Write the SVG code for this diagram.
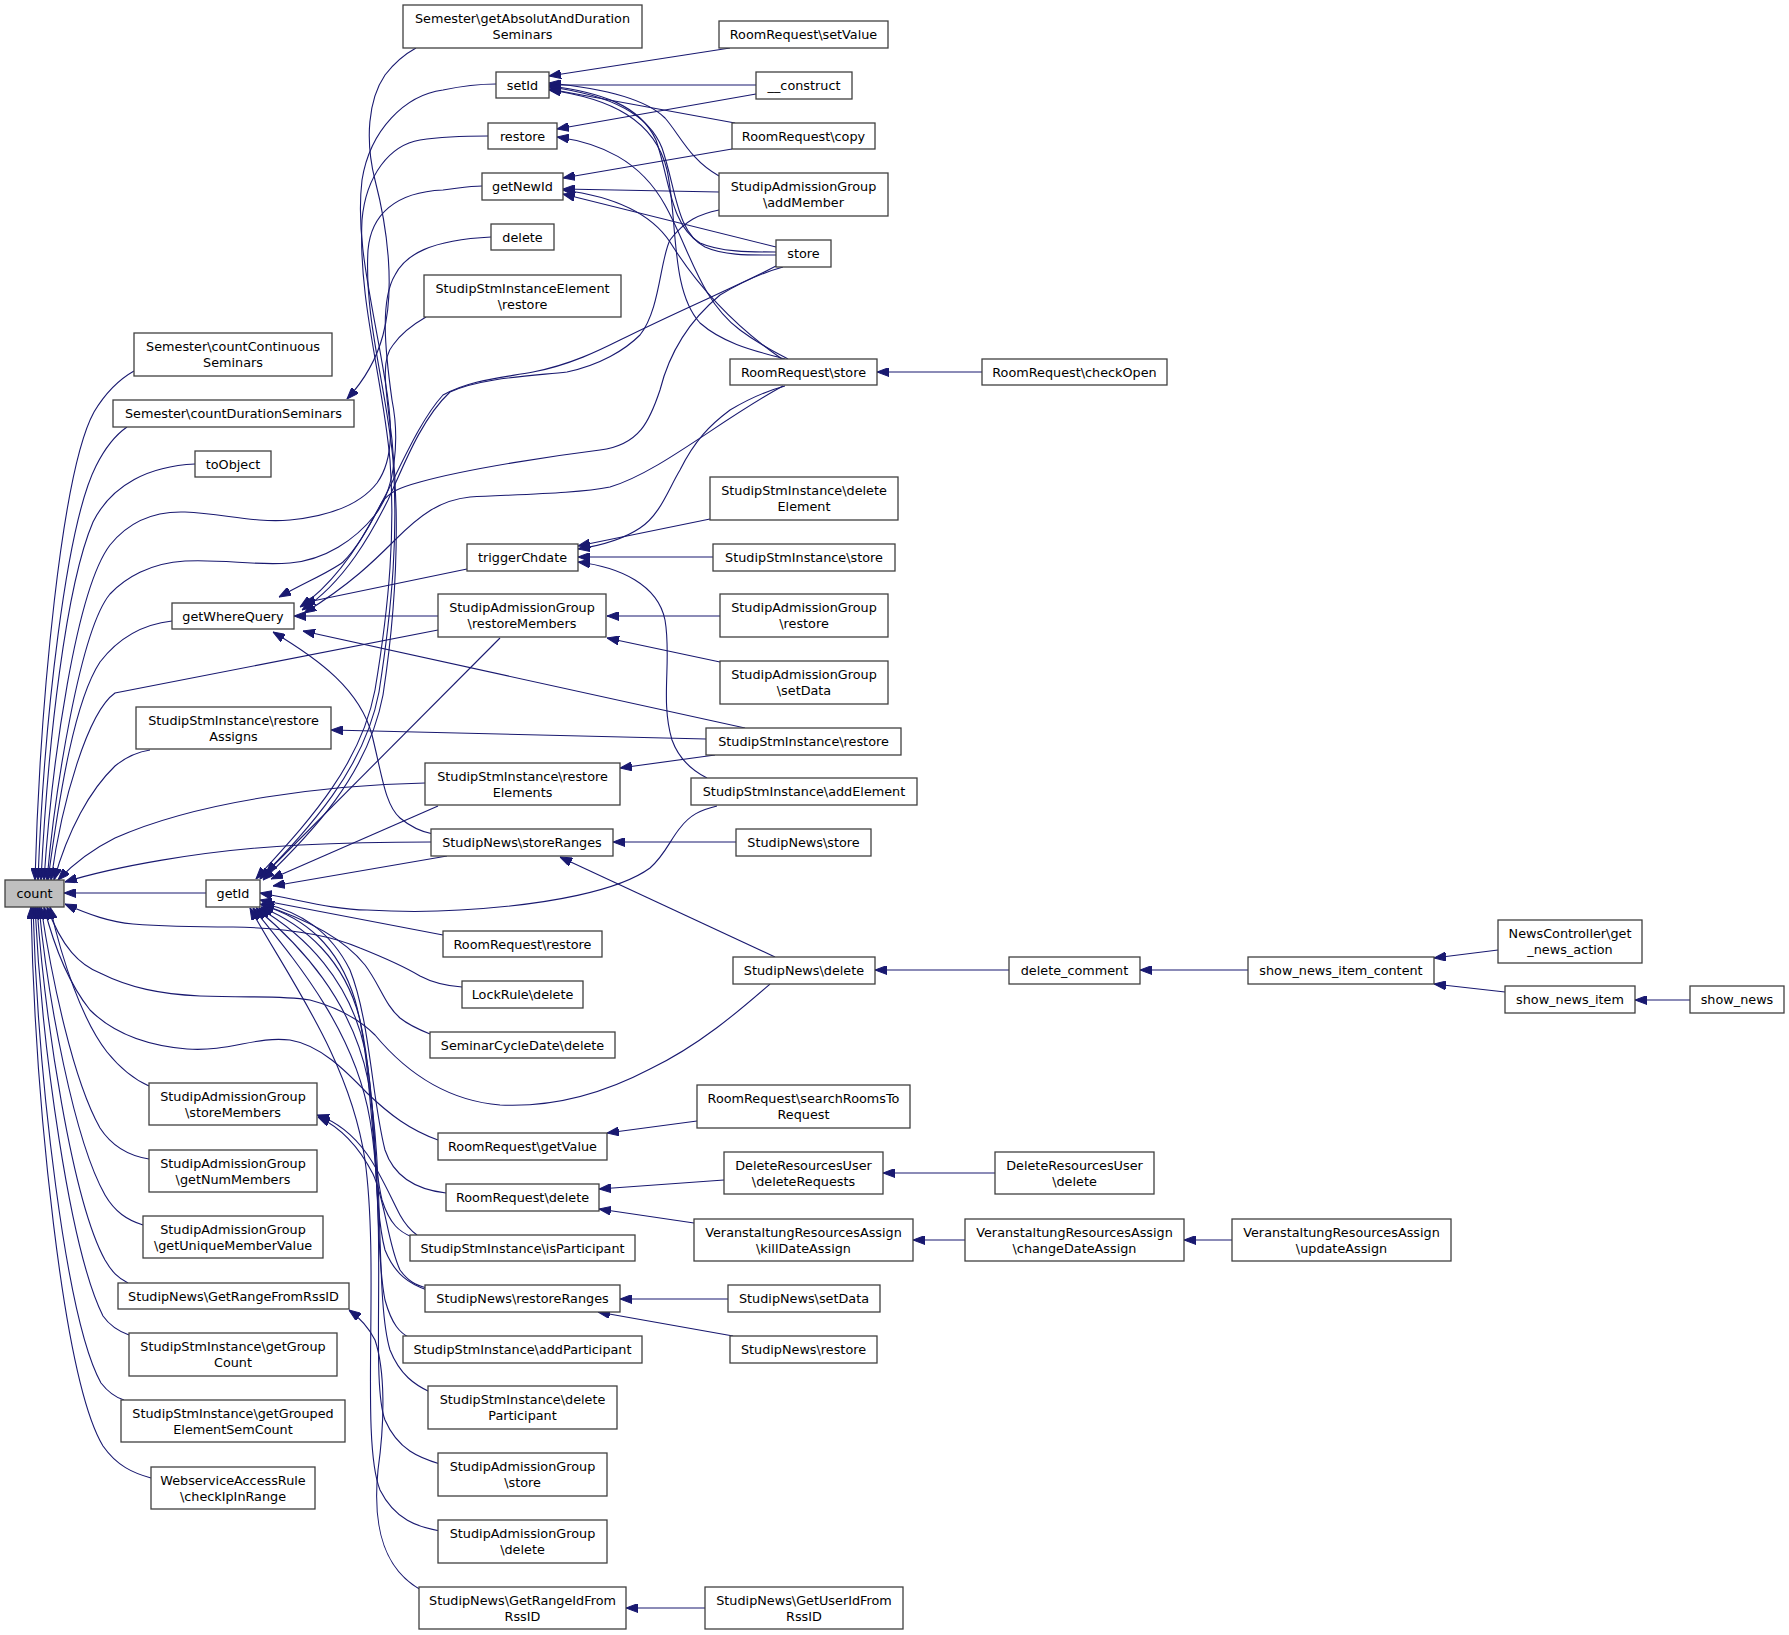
<svg xmlns="http://www.w3.org/2000/svg" width="1789" height="1635" viewBox="0 0 1789 1635">
<defs>
<marker id="ah" viewBox="0 0 12 9" refX="0" refY="4.5" markerWidth="12" markerHeight="9" markerUnits="userSpaceOnUse" orient="auto"><path d="M0,4.5 L12,0 L12,9 z" fill="#191970" stroke="#191970" stroke-width="1"/></marker>
</defs>
<style>
.n rect{fill:#ffffff;stroke:#404040;stroke-width:1.3}
.n text{font-family:"DejaVu Sans","Liberation Sans",sans-serif;font-size:12.8px;fill:#000;text-anchor:middle}
.g rect{fill:#bfbfbf}
.e path{fill:none;stroke:#191970;stroke-width:1.1;marker-start:url(#ah)}
</style>
<rect width="1789" height="1635" fill="#ffffff"/>
<g id="connectors" class="e">
<path d="M35,880 C40,700 62,470 94,412 C106,392 118,380 134,371"/>
<path d="M38,880 C44,720 66,525 96,466 C105,448 114,436 127,427"/>
<path d="M41,880 C48,740 66,585 93,522 C112,484 150,466 195,464"/>
<path d="M44,880 C52,760 76,590 110,545 C130,520 155,511 185,512 C225,514 255,523 290,520 C330,516 360,505 377,483 C395,458 392,420 385,380 C372,300 355,240 362,180 C370,130 405,95 443,90 C462,86 480,84 496,84"/>
<path d="M47,880 C55,790 80,630 110,594 C125,578 150,563 185,561 C225,559 255,566 290,563 C325,560 355,540 375,515 C395,490 400,440 392,400 C385,350 380,300 395,275 C405,255 430,240 491,237"/>
<path d="M48,880 C60,790 75,700 100,662 C120,636 145,624 172,621"/>
<path d="M51,880 C62,800 88,712 115,693 L438,630"/>
<path d="M54,880 C68,830 90,790 115,766 C126,757 137,752 150,750"/>
<path d="M58,880 C75,862 95,848 115,838 C200,800 330,785 425,783"/>
<path d="M65,882 C110,868 200,850 300,845 C360,842 400,842 431,842"/>
<path d="M64,893 L206,893"/>
<path d="M65,904 C90,915 110,922 133,924 C170,927 200,927 233,927 C290,928 330,935 360,948 C380,956 400,964 420,976 C435,984 448,986 462,987"/>
<path d="M47,907 C62,948 80,965 100,973 C130,988 160,994 200,996 C250,998 280,995 310,1000 C340,1008 360,1020 375,1035 C400,1065 440,1100 500,1105 C560,1108 610,1090 650,1069 C700,1045 740,1010 770,984"/>
<path d="M44,907 C55,950 70,985 90,1010 C110,1030 140,1045 187,1049 C230,1052 255,1036 290,1040 C320,1045 345,1070 367,1093 C390,1115 410,1130 438,1140"/>
<path d="M50,907 C62,960 82,1020 107,1052 C120,1068 133,1079 149,1086"/>
<path d="M41,907 C52,980 73,1080 100,1128 C113,1148 130,1156 149,1159"/>
<path d="M39,907 C48,1000 74,1140 105,1195 C115,1212 127,1220 143,1225"/>
<path d="M37,907 C45,1020 72,1200 105,1260 C112,1272 118,1278 128,1283"/>
<path d="M35,907 C42,1050 70,1250 103,1316 C110,1326 118,1331 129,1335"/>
<path d="M33,907 C38,1080 66,1320 101,1383 C108,1392 114,1397 124,1400"/>
<path d="M31,907 C35,1100 63,1380 103,1446 C117,1466 133,1473 151,1478"/>
<path d="M256,879 C300,830 360,770 375,690 C390,600 395,530 390,460 C383,380 358,300 362,220 C366,175 390,145 420,140 C440,137 465,136 488,136"/>
<path d="M260,879 C305,832 364,772 379,692 C393,602 398,530 393,460 C387,390 364,320 368,250 C371,215 395,192 443,190 C460,188 470,186 482,186"/>
<path d="M263,880 C310,835 368,775 383,695 C396,610 400,520 392,440 C386,390 380,360 393,345 C400,335 412,325 426,317"/>
<path d="M266,873 L500,638"/>
<path d="M271,879 L438,806"/>
<path d="M273,886 L447,856"/>
<path d="M260,893 C300,900 335,910 367,910 C400,912 430,912 460,910 C550,905 620,890 650,868 C665,855 670,840 680,828 C690,815 700,810 717,806"/>
<path d="M260,900 L443,935"/>
<path d="M260,904 C310,920 345,940 365,965 C380,985 385,1005 400,1018 C410,1026 420,1030 430,1034"/>
<path d="M262,903 C300,912 330,930 350,970 C370,1020 372,1100 385,1150 C395,1180 420,1190 446,1193"/>
<path d="M262,905 C305,918 338,945 355,1000 C372,1060 370,1150 382,1200 C390,1225 400,1232 412,1237"/>
<path d="M261,907 C305,925 345,960 360,1020 C378,1100 372,1200 385,1250 C395,1275 410,1284 427,1290"/>
<path d="M259,908 C305,935 350,980 365,1050 C380,1130 375,1250 385,1300 C392,1325 400,1333 410,1338"/>
<path d="M256,908 C300,945 352,1000 368,1080 C385,1170 375,1300 390,1350 C400,1375 415,1385 430,1392"/>
<path d="M253,908 C295,960 355,1030 370,1120 C388,1230 370,1380 385,1420 C398,1450 420,1458 440,1464"/>
<path d="M250,908 C290,980 350,1060 365,1160 C380,1270 360,1440 380,1490 C395,1520 418,1527 440,1531"/>
<path d="M549,76 L730,48"/>
<path d="M549,85 L756,85"/>
<path d="M549,89 L735,123"/>
<path d="M549,83 C600,88 645,98 665,118 C680,135 690,160 719,176"/>
<path d="M549,86 C600,92 640,105 656,140 C670,180 670,225 700,243 C720,252 750,252 776,252"/>
<path d="M549,87 C605,94 648,112 662,148 C676,188 676,232 705,247 C725,256 752,255 776,255"/>
<path d="M549,90 C610,98 655,120 667,170 C678,220 670,290 700,323 C725,345 760,352 785,359"/>
<path d="M557,129 L756,94"/>
<path d="M557,137 C600,143 640,160 665,205 C690,250 700,300 740,330 C760,345 775,352 788,359"/>
<path d="M563,178 L732,149"/>
<path d="M563,189 L719,192"/>
<path d="M563,194 L776,247"/>
<path d="M563,190 C610,196 650,212 670,242 C700,290 740,330 782,359"/>
<path d="M300,607 C340,580 368,530 383,500 C400,468 420,420 443,395 C470,380 500,378 533,372 C570,365 600,350 620,340 C680,310 740,285 776,266"/>
<path d="M302,610 C345,582 372,532 388,500 C402,470 420,420 450,392 C480,378 530,376 567,372 C600,365 625,350 640,335 C660,310 660,260 670,240 C685,220 700,214 719,210"/>
<path d="M304,613 C350,585 375,560 395,540 C420,515 440,500 470,497 C530,494 580,493 610,487 C660,472 720,420 783,386"/>
<path d="M279,597 C310,580 330,572 343,562 C360,545 372,520 382,502 C390,492 398,488 420,482 C470,468 560,455 600,450 C640,445 650,420 660,390 C670,350 690,320 720,295 C745,280 765,272 783,267"/>
<path d="M578,546 L710,519"/>
<path d="M578,557 L713,557"/>
<path d="M578,562 C620,567 658,585 665,620 C672,660 660,700 672,740 C680,762 695,772 707,778"/>
<path d="M578,549 C605,545 625,538 640,528 C660,515 668,490 680,470 C695,440 710,425 730,410 C750,398 770,390 785,386"/>
<path d="M303,603 L467,569"/>
<path d="M294,616 L438,616"/>
<path d="M303,631 L745,728"/>
<path d="M273,632 C320,660 360,690 372,735 C382,775 385,805 400,818 C412,828 422,832 433,834"/>
<path d="M607,616 L720,616"/>
<path d="M607,638 L720,662"/>
<path d="M331,730 L706,739"/>
<path d="M620,768 L715,755"/>
<path d="M613,842 L736,842"/>
<path d="M560,857 L775,957"/>
<path d="M875,970 L1009,970"/>
<path d="M1140,970 L1248,970"/>
<path d="M1434,958 L1498,950"/>
<path d="M1434,984 L1505,992"/>
<path d="M1635,1000 L1690,1000"/>
<path d="M877,372 L982,372"/>
<path d="M607,1133 L697,1121"/>
<path d="M599,1189 L724,1180"/>
<path d="M599,1209 L694,1223"/>
<path d="M883,1173 L995,1173"/>
<path d="M913,1240 L965,1240"/>
<path d="M1184,1240 L1232,1240"/>
<path d="M620,1299 L728,1299"/>
<path d="M598,1312 L733,1336"/>
<path d="M626,1608 L705,1608"/>
<path d="M349,1310 C360,1318 368,1326 375,1340 C385,1370 385,1420 378,1470 C372,1530 385,1570 421,1590"/>
<path d="M317,1115 C335,1121 352,1133 367,1154 C380,1172 392,1200 400,1215 C405,1224 410,1230 417,1235"/>
<path d="M318,1117 C340,1127 358,1145 373,1174 C385,1200 388,1245 400,1270 C408,1281 415,1285 427,1288"/>
<path d="M347,399 C360,385 375,365 383,335 C395,290 388,230 375,180 C365,140 368,100 385,75 C395,62 405,54 416,48"/>
</g>
<g id="count" class="n g"><rect x="5" y="880" width="59" height="27"/><text x="34.5" y="898">count</text></g>
<g id="getId" class="n"><rect x="206" y="880" width="54" height="27"/><text x="233" y="898">getId</text></g>
<g id="getWhereQuery" class="n"><rect x="172" y="603" width="122" height="26"/><text x="233" y="620.5">getWhereQuery</text></g>
<g id="countContinuous" class="n"><rect x="134" y="333" width="198" height="43"/><text x="233" y="351">Semester\countContinuous</text><text x="233" y="367">Seminars</text></g>
<g id="countDuration" class="n"><rect x="113" y="400" width="241" height="27"/><text x="233.5" y="418">Semester\countDurationSeminars</text></g>
<g id="toObject" class="n"><rect x="195" y="451" width="76" height="26"/><text x="233" y="468.5">toObject</text></g>
<g id="restoreAssigns" class="n"><rect x="136" y="707" width="195" height="42"/><text x="233.5" y="725">StudipStmInstance\restore</text><text x="233.5" y="741">Assigns</text></g>
<g id="storeMembers" class="n"><rect x="149" y="1083" width="168" height="42"/><text x="233" y="1101">StudipAdmissionGroup</text><text x="233" y="1117">\storeMembers</text></g>
<g id="getNumMembers" class="n"><rect x="149" y="1150" width="168" height="42"/><text x="233" y="1168">StudipAdmissionGroup</text><text x="233" y="1184">\getNumMembers</text></g>
<g id="getUniqueMemberValue" class="n"><rect x="143" y="1216" width="180" height="42"/><text x="233" y="1234">StudipAdmissionGroup</text><text x="233" y="1250">\getUniqueMemberValue</text></g>
<g id="GetRangeFromRssID" class="n"><rect x="118" y="1283" width="231" height="26"/><text x="233.5" y="1300.5">StudipNews\GetRangeFromRssID</text></g>
<g id="getGroupCount" class="n"><rect x="129" y="1333" width="208" height="43"/><text x="233" y="1351">StudipStmInstance\getGroup</text><text x="233" y="1367">Count</text></g>
<g id="getGroupedElementSemCount" class="n"><rect x="121" y="1400" width="224" height="42"/><text x="233" y="1418">StudipStmInstance\getGrouped</text><text x="233" y="1434">ElementSemCount</text></g>
<g id="checkIpInRange" class="n"><rect x="151" y="1467" width="164" height="42"/><text x="233" y="1485">WebserviceAccessRule</text><text x="233" y="1501">\checkIpInRange</text></g>
<g id="getAbsolutAndDurationSeminars" class="n"><rect x="403" y="5" width="239" height="43"/><text x="522.5" y="23">Semester\getAbsolutAndDuration</text><text x="522.5" y="39">Seminars</text></g>
<g id="setId" class="n"><rect x="496" y="72" width="53" height="26"/><text x="522.5" y="89.5">setId</text></g>
<g id="restore" class="n"><rect x="488" y="123" width="69" height="26"/><text x="522.5" y="140.5">restore</text></g>
<g id="getNewId" class="n"><rect x="482" y="173" width="81" height="27"/><text x="522.5" y="191">getNewId</text></g>
<g id="delete" class="n"><rect x="491" y="224" width="63" height="26"/><text x="522.5" y="241.5">delete</text></g>
<g id="StmElementRestore" class="n"><rect x="424" y="275" width="197" height="42"/><text x="522.5" y="293">StudipStmInstanceElement</text><text x="522.5" y="309">\restore</text></g>
<g id="triggerChdate" class="n"><rect x="467" y="544" width="111" height="27"/><text x="522.5" y="562">triggerChdate</text></g>
<g id="restoreMembers" class="n"><rect x="438" y="594" width="168" height="43"/><text x="522" y="612">StudipAdmissionGroup</text><text x="522" y="628">\restoreMembers</text></g>
<g id="restoreElements" class="n"><rect x="425" y="763" width="195" height="42"/><text x="522.5" y="781">StudipStmInstance\restore</text><text x="522.5" y="797">Elements</text></g>
<g id="storeRanges" class="n"><rect x="431" y="829" width="182" height="27"/><text x="522" y="847">StudipNews\storeRanges</text></g>
<g id="RoomRequestRestore" class="n"><rect x="443" y="931" width="159" height="26"/><text x="522.5" y="948.5">RoomRequest\restore</text></g>
<g id="LockRuleDelete" class="n"><rect x="462" y="981" width="121" height="27"/><text x="522.5" y="999">LockRule\delete</text></g>
<g id="SeminarCycleDateDelete" class="n"><rect x="430" y="1032" width="185" height="26"/><text x="522.5" y="1049.5">SeminarCycleDate\delete</text></g>
<g id="RoomRequestGetValue" class="n"><rect x="438" y="1133" width="169" height="27"/><text x="522.5" y="1151">RoomRequest\getValue</text></g>
<g id="RoomRequestDelete" class="n"><rect x="446" y="1184" width="153" height="27"/><text x="522.5" y="1202">RoomRequest\delete</text></g>
<g id="isParticipant" class="n"><rect x="410" y="1235" width="225" height="26"/><text x="522.5" y="1252.5">StudipStmInstance\isParticipant</text></g>
<g id="restoreRanges" class="n"><rect x="425" y="1285" width="195" height="27"/><text x="522.5" y="1303">StudipNews\restoreRanges</text></g>
<g id="addParticipant" class="n"><rect x="403" y="1336" width="239" height="27"/><text x="522.5" y="1354">StudipStmInstance\addParticipant</text></g>
<g id="deleteParticipant" class="n"><rect x="428" y="1386" width="189" height="43"/><text x="522.5" y="1404">StudipStmInstance\delete</text><text x="522.5" y="1420">Participant</text></g>
<g id="AdmissionGroupStore" class="n"><rect x="438" y="1453" width="169" height="43"/><text x="522.5" y="1471">StudipAdmissionGroup</text><text x="522.5" y="1487">\store</text></g>
<g id="AdmissionGroupDelete" class="n"><rect x="438" y="1520" width="169" height="43"/><text x="522.5" y="1538">StudipAdmissionGroup</text><text x="522.5" y="1554">\delete</text></g>
<g id="GetRangeIdFromRssID" class="n"><rect x="419" y="1587" width="207" height="42"/><text x="522.5" y="1605">StudipNews\GetRangeIdFrom</text><text x="522.5" y="1621">RssID</text></g>
<g id="setValue" class="n"><rect x="719" y="21" width="169" height="27"/><text x="803.5" y="39">RoomRequest\setValue</text></g>
<g id="construct" class="n"><rect x="756" y="72" width="96" height="27"/><text x="804" y="90">__construct</text></g>
<g id="copy" class="n"><rect x="732" y="123" width="143" height="26"/><text x="803.5" y="140.5">RoomRequest\copy</text></g>
<g id="addMember" class="n"><rect x="719" y="173" width="169" height="43"/><text x="803.5" y="191">StudipAdmissionGroup</text><text x="803.5" y="207">\addMember</text></g>
<g id="store" class="n"><rect x="776" y="240" width="55" height="27"/><text x="803.5" y="258">store</text></g>
<g id="RoomRequestStore" class="n"><rect x="730" y="359" width="147" height="26"/><text x="803.5" y="376.5">RoomRequest\store</text></g>
<g id="deleteElement" class="n"><rect x="710" y="477" width="188" height="43"/><text x="804" y="495">StudipStmInstance\delete</text><text x="804" y="511">Element</text></g>
<g id="StmInstanceStore" class="n"><rect x="713" y="544" width="182" height="27"/><text x="804" y="562">StudipStmInstance\store</text></g>
<g id="AdmissionGroupRestore" class="n"><rect x="720" y="594" width="168" height="43"/><text x="804" y="612">StudipAdmissionGroup</text><text x="804" y="628">\restore</text></g>
<g id="AdmissionGroupSetData" class="n"><rect x="720" y="661" width="168" height="43"/><text x="804" y="679">StudipAdmissionGroup</text><text x="804" y="695">\setData</text></g>
<g id="StmInstanceRestore" class="n"><rect x="706" y="728" width="195" height="27"/><text x="803.5" y="746">StudipStmInstance\restore</text></g>
<g id="addElement" class="n"><rect x="691" y="778" width="226" height="27"/><text x="804" y="796">StudipStmInstance\addElement</text></g>
<g id="NewsStore" class="n"><rect x="736" y="829" width="135" height="27"/><text x="803.5" y="847">StudipNews\store</text></g>
<g id="NewsDelete" class="n"><rect x="733" y="957" width="142" height="27"/><text x="804" y="975">StudipNews\delete</text></g>
<g id="searchRoomsToRequest" class="n"><rect x="697" y="1085" width="213" height="43"/><text x="803.5" y="1103">RoomRequest\searchRoomsTo</text><text x="803.5" y="1119">Request</text></g>
<g id="deleteRequests" class="n"><rect x="724" y="1152" width="159" height="42"/><text x="803.5" y="1170">DeleteResourcesUser</text><text x="803.5" y="1186">\deleteRequests</text></g>
<g id="killDateAssign" class="n"><rect x="694" y="1219" width="219" height="42"/><text x="803.5" y="1237">VeranstaltungResourcesAssign</text><text x="803.5" y="1253">\killDateAssign</text></g>
<g id="NewsSetData" class="n"><rect x="728" y="1285" width="152" height="27"/><text x="804" y="1303">StudipNews\setData</text></g>
<g id="NewsRestore" class="n"><rect x="730" y="1336" width="147" height="27"/><text x="803.5" y="1354">StudipNews\restore</text></g>
<g id="GetUserIdFromRssID" class="n"><rect x="705" y="1587" width="198" height="42"/><text x="804" y="1605">StudipNews\GetUserIdFrom</text><text x="804" y="1621">RssID</text></g>
<g id="checkOpen" class="n"><rect x="982" y="359" width="185" height="26"/><text x="1074.5" y="376.5">RoomRequest\checkOpen</text></g>
<g id="deleteComment" class="n"><rect x="1009" y="957" width="131" height="27"/><text x="1074.5" y="975">delete_comment</text></g>
<g id="DeleteResourcesUserDelete" class="n"><rect x="995" y="1152" width="159" height="42"/><text x="1074.5" y="1170">DeleteResourcesUser</text><text x="1074.5" y="1186">\delete</text></g>
<g id="changeDateAssign" class="n"><rect x="965" y="1219" width="219" height="42"/><text x="1074.5" y="1237">VeranstaltungResourcesAssign</text><text x="1074.5" y="1253">\changeDateAssign</text></g>
<g id="showNewsItemContent" class="n"><rect x="1248" y="957" width="186" height="27"/><text x="1341" y="975">show_news_item_content</text></g>
<g id="updateAssign" class="n"><rect x="1232" y="1219" width="219" height="42"/><text x="1341.5" y="1237">VeranstaltungResourcesAssign</text><text x="1341.5" y="1253">\updateAssign</text></g>
<g id="getNewsAction" class="n"><rect x="1498" y="920" width="144" height="43"/><text x="1570" y="938">NewsController\get</text><text x="1570" y="954">_news_action</text></g>
<g id="showNewsItem" class="n"><rect x="1505" y="986" width="130" height="27"/><text x="1570" y="1004">show_news_item</text></g>
<g id="showNews" class="n"><rect x="1690" y="986" width="94" height="27"/><text x="1737" y="1004">show_news</text></g>
</svg>
